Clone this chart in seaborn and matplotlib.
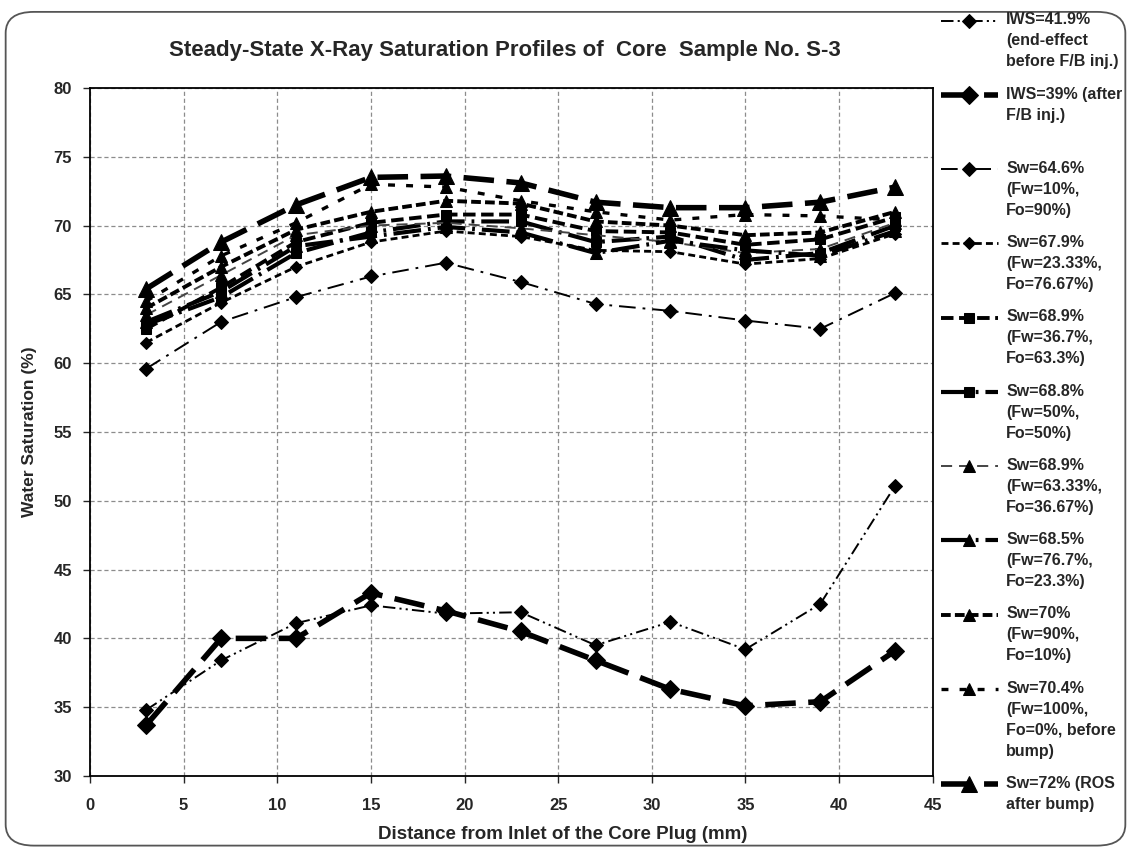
import matplotlib
matplotlib.use("Agg")
import matplotlib.pyplot as plt
from matplotlib.patches import FancyBboxPatch
from matplotlib.legend_handler import HandlerLine2D
import seaborn as sns

# distance from inlet (mm)
distance = [3, 7, 11, 15, 19, 23, 27, 31, 35, 39, 43]

# water saturation (%) for each profile
iws_419 = [34.8, 38.4, 41.1, 42.4, 41.8, 41.9, 39.5, 41.2, 39.2, 42.5, 51.1]
iws_39 = [33.7, 40.0, 40.0, 43.3, 42.0, 40.5, 38.4, 36.3, 35.1, 35.4, 39.1]
sw_646 = [59.6, 63.0, 64.8, 66.3, 67.3, 65.9, 64.3, 63.8, 63.1, 62.5, 65.1]
sw_679 = [61.5, 64.4, 67.0, 68.8, 69.6, 69.2, 68.2, 68.1, 67.2, 67.6, 69.4]
sw_689a = [62.5, 65.5, 68.8, 70.2, 70.8, 70.8, 69.6, 69.5, 68.6, 69.0, 70.6]
sw_688 = [62.8, 64.8, 68.0, 69.5, 70.3, 70.3, 68.8, 69.2, 67.5, 68.0, 70.0]
sw_689b = [63.5, 66.4, 69.3, 70.0, 70.2, 69.8, 69.3, 68.8, 68.0, 68.3, 70.2]
sw_685 = [63.0, 65.2, 68.5, 69.2, 69.9, 69.5, 68.0, 68.9, 68.2, 67.8, 69.6]
sw_70 = [64.0, 67.0, 69.7, 71.0, 71.8, 71.6, 70.3, 70.0, 69.3, 69.5, 71.0]
sw_704 = [64.5, 67.8, 70.2, 73.0, 72.8, 71.8, 71.0, 70.4, 70.8, 70.7, 70.4]
sw_72 = [65.4, 68.8, 71.5, 73.5, 73.6, 73.1, 71.7, 71.3, 71.3, 71.7, 72.8]

labels = [
    "IWS=41.9%\n(end-effect\nbefore F/B inj.)",
    "IWS=39% (after\nF/B inj.)\n",
    "Sw=64.6%\n(Fw=10%,\nFo=90%)",
    "Sw=67.9%\n(Fw=23.33%,\nFo=76.67%)",
    "Sw=68.9%\n(Fw=36.7%,\nFo=63.3%)",
    "Sw=68.8%\n(Fw=50%,\nFo=50%)",
    "Sw=68.9%\n(Fw=63.33%,\nFo=36.67%)",
    "Sw=68.5%\n(Fw=76.7%,\nFo=23.3%)",
    "Sw=70%\n(Fw=90%,\nFo=10%)",
    "Sw=70.4%\n(Fw=100%,\nFo=0%, before\nbump)",
    "Sw=72% (ROS\nafter bump)",
]

series = [iws_419, iws_39, sw_646, sw_679, sw_689a, sw_688,
          sw_689b, sw_685, sw_70, sw_704, sw_72]

# (marker, marker size, line width, dash pattern in points, colour)
styles = [
    ("D", 7, 1.4, (0, (9, 3, 1.5, 3, 1.5, 3)), "black"),
    ("D", 9, 4.0, (0, (22, 9)), "black"),
    ("D", 7, 1.4, (0, (12, 5, 2, 5)), "black"),
    ("D", 6, 2.0, (0, (5, 3)), "black"),
    ("s", 7, 2.8, (0, (9, 4)), "black"),
    ("s", 7, 3.0, (0, (20, 5, 2, 5)), "black"),
    ("^", 8, 1.4, (0, (8, 5)), "#444444"),
    ("^", 9, 3.0, (0, (20, 5, 2, 5)), "black"),
    ("^", 9, 2.8, (0, (7, 3)), "black"),
    ("^", 9, 2.4, (0, (5, 8)), "black"),
    ("^", 11, 4.0, (0, (22, 9)), "black"),
]

LINESPACING = 1.5


class TopHandler(HandlerLine2D):
    # put the legend line beside the first text line, not the middle
    def __init__(self, nlines, **kw):
        super().__init__(**kw)
        self.nlines = nlines

    def create_artists(self, legend, orig_handle, xdescent, ydescent,
                       width, height, fontsize, trans):
        pitch = LINESPACING * 0.865 * fontsize
        shift = (self.nlines - 1) * 0.5 * pitch
        return super().create_artists(legend, orig_handle, xdescent,
                                      ydescent - 2 * shift, width, height,
                                      fontsize, trans)


sns.set_style("white")
plt.rcParams["font.family"] = ["Liberation Sans", "DejaVu Sans"]
plt.rcParams["font.weight"] = "bold"
plt.rcParams["lines.scale_dashes"] = False

fig = plt.figure(figsize=(11.31, 8.49), dpi=100)
ax = fig.add_axes([0.0796, 0.086, 0.745, 0.8104])

for y, lab, (mk, ms, lw, ls, col) in zip(series, labels, styles):
    sns.lineplot(x=distance, y=y, ax=ax, marker=mk, markersize=ms,
                 linewidth=lw, linestyle=ls, color=col, label=lab,
                 markeredgecolor="black", markerfacecolor="black")

ax.set_xlim(0, 45)
ax.set_ylim(30, 80)
ax.set_xticks(range(0, 46, 5))
ax.set_yticks(range(30, 81, 5))
ax.grid(True, color="#8c8c8c", linestyle=(0, (3, 2)), linewidth=0.9)
for sp in ax.spines.values():
    sp.set_color("black")
    sp.set_linewidth(1.3)
ax.tick_params(axis="both", direction="out", length=5, width=1,
               labelsize=12, left=True, bottom=True)
ax.tick_params(axis="x", pad=11)
ax.tick_params(axis="y", pad=8)
for t in ax.get_xticklabels() + ax.get_yticklabels():
    t.set_fontweight("bold")

ax.set_xlabel("Distance from Inlet of the Core Plug (mm)", fontsize=13.5,
              fontweight="bold")
ax.xaxis.set_label_coords(0.561, -0.072)
ax.set_ylabel("Water Saturation (%)", fontsize=12.5, fontweight="bold",
              labelpad=12)
fig.text(0.446, 0.941, "Steady-State X-Ray Saturation Profiles of  Core  Sample No. S-3",
         ha="center", va="center", fontsize=16, fontweight="bold")

ax.legend_.remove()
handles, labs = ax.get_legend_handles_labels()
hmap = {h: TopHandler(l.count("\n") + 1) for h, l in zip(handles, labs)}
leg = fig.legend(handles, labs, loc="upper left", bbox_to_anchor=(0.826, 0.993),
                 frameon=False, fontsize=11.5, handlelength=3.6,
                 handletextpad=0.5, labelspacing=1.08, borderaxespad=0,
                 handler_map=hmap)
for t in leg.get_texts():
    t.set_fontweight("bold")
    t.set_linespacing(LINESPACING)

fig.patches.append(FancyBboxPatch((0.005, 0.004), 0.99, 0.982,
                                  boxstyle="round,pad=0,rounding_size=0.025",
                                  transform=fig.transFigure, fill=False,
                                  edgecolor="#555555", linewidth=1.3))

fig.savefig("out.png", dpi=100)
